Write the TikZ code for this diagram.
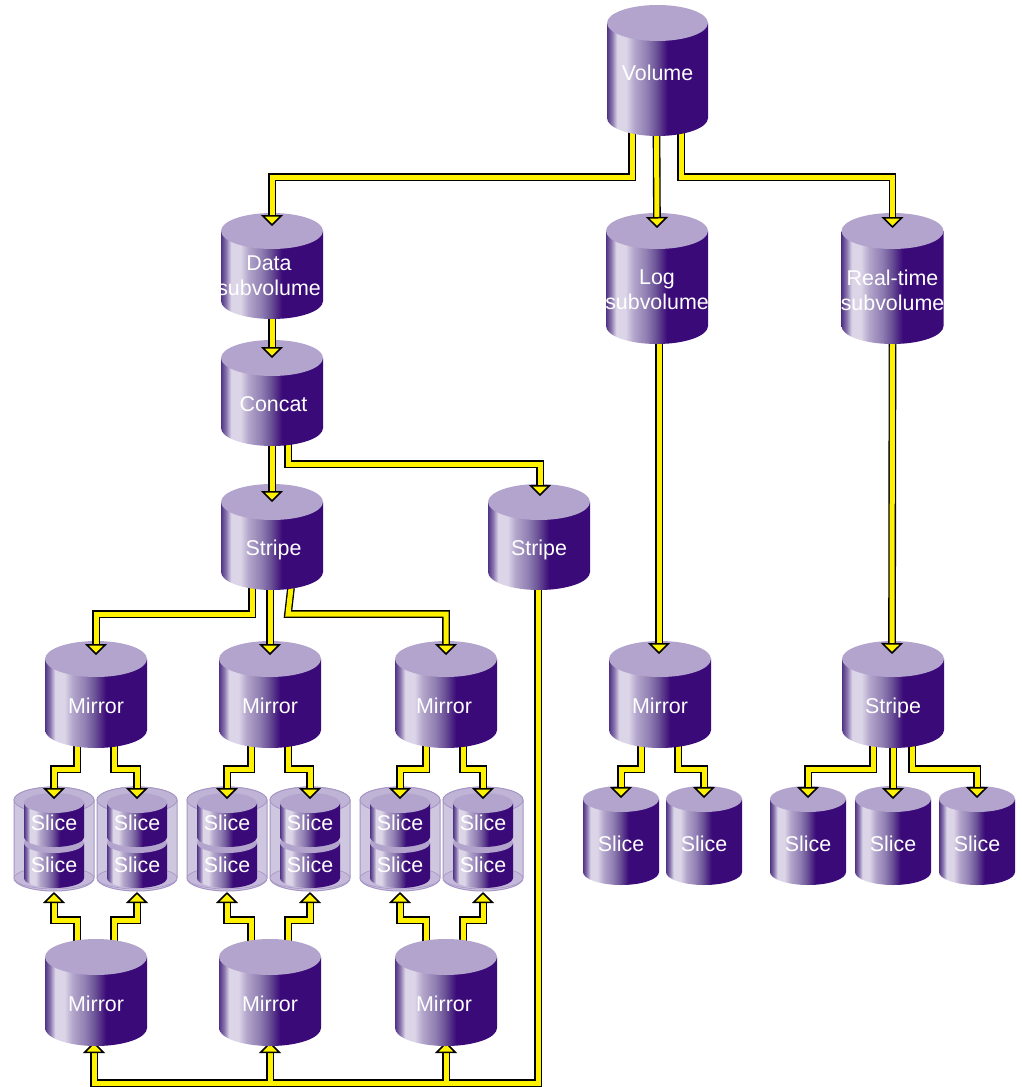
\documentclass[tikz,border=0pt]{standalone}
\usepackage{fontspec}
\setmainfont{Liberation Sans}
\usetikzlibrary{calc,arrows.meta}
\definecolor{cyltop}{HTML}{B2A4CC}
\definecolor{glassside}{HTML}{CFC6E0}
\definecolor{glasstop}{HTML}{BFB3D6}
\definecolor{glassbot}{HTML}{C4B9DA}
\definecolor{glassline}{HTML}{A595C4}
\definecolor{cylA}{HTML}{4F3385}
\definecolor{cylB}{HTML}{8A76AE}
\definecolor{cylC}{HTML}{DCD5E8}
\definecolor{cylD}{HTML}{B3A6CB}
\definecolor{cylE}{HTML}{8E7CB1}
\definecolor{cylF}{HTML}{6A5196}
\definecolor{cylG}{HTML}{3A0A78}
\pgfdeclarehorizontalshading{cylside}{100bp}{
  color(0bp)=(cylA); color(25bp)=(cylA); color(27.5bp)=(cylB); color(30bp)=(cylC);
  color(34.5bp)=(cylC); color(38.5bp)=(cylD); color(45bp)=(cylE); color(49.5bp)=(cylF);
  color(55bp)=(cylG); color(100bp)=(cylG)}
\pgfdeclarelayer{fg}
\pgfsetlayers{main,fg}
\tikzset{
  lbl/.style={text=white,inner sep=0pt,align=center,font=\fontsize{21.4}{25}\selectfont},
  bigcyl/.style={lbl,minimum width=102pt,minimum height=106pt},
  tallcyl/.style={lbl,minimum width=102pt,minimum height=131pt},
  slicecyl/.style={lbl,minimum width=76pt,minimum height=98pt},
  smallcyl/.style={lbl,minimum width=60pt,minimum height=54pt},
  nodepth/.style={text depth=0pt},
  conn/.style={draw=black,line width=1.35pt,double=yellow,double distance=5pt,line join=miter,
    -{Triangle[length=11pt,width=22pt,fill=yellow,line width=1.5pt]}},
  bus/.style={draw=black,line width=1.35pt,double=yellow,double distance=5pt,line join=miter},
}
% name, rx, ry, distance up to top ellipse centre, distance down to bottom ellipse centre
\newcommand\cylbody[5]{%
  \path[shade,shading=cylside] ($(#1)+(-#2,#4)$) -- ($(#1)+(-#2,-#5)$)
    arc[start angle=180,end angle=360,x radius=#2,y radius=#3]
    -- ($(#1)+(#2,#4)$) -- cycle;
  \fill[cyltop] ($(#1)+(0,#4)$) ellipse[x radius=#2,y radius=#3];
}
% glass cylinder around a pair of slices, placed from the upper slice node
\newcommand\glass[1]{%
  \path[fill=glassside,draw=glassline,line width=1pt] ($(#1)+(-40,23)$) -- ($(#1)+(-40,-55)$)
    arc[start angle=180,end angle=360,x radius=40,y radius=13]
    -- ($(#1)+(40,23)$) arc[start angle=0,end angle=180,x radius=40,y radius=13] -- cycle;
  \path[fill=glassbot,draw=glassline,line width=.6pt] ($(#1)+(0,-55)$) ellipse[x radius=40,y radius=11];
  \path[fill=glasstop,draw=glassline,line width=.8pt] ($(#1)+(0,23)$) ellipse[x radius=40,y radius=13];
}
\begin{document}
\begin{tikzpicture}[x=1pt,y=1pt]
\useasboundingbox (0,0) rectangle (1021,-1087);
\begin{pgfonlayer}{fg}
  \node[tallcyl] (vol) at (657.5,-73) {Volume};
  \node[bigcyl]  (data) at (272,-276) {\hspace*{-6pt}Data\\\hspace*{-6pt}subvolume};
  \node[tallcyl] (log) at (657,-290) {Log\\subvolume};
  \node[tallcyl] (rt) at (892.5,-290) {Real-time\\subvolume};
  \node[bigcyl]  (concat) at (272,-404) {\hspace*{3pt}Concat};
  \node[bigcyl,nodepth]  (st) at (272,-548) {\hspace*{3pt}Stripe};
  \node[bigcyl,nodepth]  (stb) at (539,-548) {Stripe};
  \node[bigcyl]  (ma) at (96,-706) {Mirror};
  \node[bigcyl]  (mb) at (270,-706) {Mirror};
  \node[bigcyl]  (mc) at (446,-706) {\hspace*{-4pt}Mirror};
  \node[bigcyl]  (md) at (660,-706) {Mirror};
  \node[bigcyl,nodepth]  (se) at (893,-706) {Stripe};
  \node[bigcyl]  (na) at (96,-1004) {Mirror};
  \node[bigcyl]  (nb) at (270,-1004) {Mirror};
  \node[bigcyl]  (nc) at (446,-1004) {\hspace*{-4pt}Mirror};
  \node[slicecyl] (sa) at (621,-844) {Slice};
  \node[slicecyl] (sb) at (704,-844) {Slice};
  \node[slicecyl] (sc) at (808,-844) {Slice};
  \node[slicecyl] (sd) at (893,-844) {Slice};
  \node[slicecyl] (se1) at (977,-844) {Slice};
  \foreach \n/\x in {a/54,b/137,c/227,d/310,e/400,f/483}{
    \node[smallcyl] (u\n) at (\x,-823) {Slice};
    \node[smallcyl] (l\n) at (\x,-865) {Slice};
  }
\end{pgfonlayer}
% leaf slices
\foreach \n in {sa,sb,sc,sd,se1}{\cylbody{\n}{38}{13}{45}{28}}
\foreach \n in {a,b,c,d,e,f}{
  \glass{u\n}
  \cylbody{l\n}{30}{10}{22}{13}
  \cylbody{u\n}{30}{10}{20}{14}
}
% mirror to slices
\draw[conn] ($(ma)+(-19,-39)$) -- ++(0,-24) -| ($(ua)+(0,24)$);
\draw[conn] ($(ma)+(18,-39)$) -- ++(0,-24) -| ($(ub)+(0,24)$);
\draw[conn] ($(mb)+(-19,-39)$) -- ++(0,-24) -| ($(uc)+(0,24)$);
\draw[conn] ($(mb)+(18,-39)$) -- ++(0,-24) -| ($(ud)+(0,24)$);
\draw[conn] ($(mc)+(-20,-39)$) -- ++(0,-24) -| ($(ue)+(0,24)$);
\draw[conn] ($(mc)+(17,-39)$) -- ++(0,-24) -| ($(uf)+(0,24)$);
\draw[conn] ($(na)+(-19,54)$) -- ++(0,30) -| ($(la)+(0,-27)$);
\draw[conn] ($(na)+(18,54)$) -- ++(0,30) -| ($(lb)+(0,-27)$);
\draw[conn] ($(nb)+(-19,54)$) -- ++(0,30) -| ($(lc)+(0,-27)$);
\draw[conn] ($(nb)+(18,54)$) -- ++(0,30) -| ($(ld)+(0,-27)$);
\draw[conn] ($(nc)+(-20,54)$) -- ++(0,30) -| ($(le)+(0,-27)$);
\draw[conn] ($(nc)+(17,54)$) -- ++(0,30) -| ($(lf)+(0,-27)$);
\draw[conn] ($(md)+(-19,-39)$) -- ++(0,-24) -| ($(sa)+(0,46)$);
\draw[conn] ($(md)+(18,-39)$) -- ++(0,-24) -| ($(sb)+(0,46)$);
\draw[conn] ($(se)+(-20,-39)$) -- ++(0,-24) -| ($(sc)+(0,46)$);
\draw[conn] ($(se)+(0,-39)$) -- ($(sd)+(0,45)$);
\draw[conn] ($(se)+(19,-39)$) -- ++(0,-24) -| ($(se1)+(0,46)$);
% bus from the right-hand stripe to the lower mirrors
\path[bus] ($(stb)+(-1,-36)$) |- ($(na)+(-2,-79)$) -- ($(na)+(-2,-47)$)
  ($(nb)+(0,-79)$) -- ($(nb)+(0,-47)$)
  ($(nc)+(0,-79)$) -- ($(nc)+(0,-47)$);
\draw[conn] ($(na)+(-2,-47.5)$) -- ($(na)+(-2,-38)$);
\draw[conn] ($(nb)+(0,-47.5)$) -- ($(nb)+(0,-38)$);
\draw[conn] ($(nc)+(0,-47.5)$) -- ($(nc)+(0,-38)$);
\foreach \n in {ma,mb,mc,md,se,na,nb,nc}{\cylbody{\n}{51}{18}{47}{24}}
% stripe to mirrors
\draw[conn] ($(st)+(-20,-36)$) -- ++(0,-30) -| ($(ma)+(0,51)$);
\draw[conn] ($(st)+(-2,-36)$) -- ($(mb)+(0,51)$);
\draw[conn] ($(st)+(19,-40)$) -- ($(st)+(16,-66)$) -| ($(mc)+(0,51)$);
\cylbody{st}{51}{18}{46}{24}
\cylbody{stb}{51}{18}{46}{24}
% concat to stripes
\draw[conn] ($(concat)+(0,-36)$) -- ($(st)+(0,46)$);
\draw[conn] ($(concat)+(16,-36)$) -- ++(0,-24) -| ($(stb)+(1,52)$);
\cylbody{concat}{51}{18}{46}{24}
\draw[conn] ($(data)+(0,-40)$) -- ($(concat)+(0,46)$);
\cylbody{data}{51}{18}{45}{25}
% long drops
\draw[conn] ($(log)+(2,-50)$) -- ($(md)+(-1,52)$);
\draw[conn] ($(rt)+(0,-50)$) -- ($(se)+(-1,52)$);
\cylbody{log}{51}{18}{59}{36}
\cylbody{rt}{51}{18}{59}{36}
% volume
\draw[conn] ($(vol)+(-25.5,-57)$) -- ++(0,-47) -| ($(data)+(0,50)$);
\draw[conn] ($(vol)+(-1,-57)$) -- ($(log)+(0,62)$);
\draw[conn] ($(vol)+(23.5,-57)$) -- ++(0,-47) -| ($(rt)+(0,62)$);
\cylbody{vol}{50.5}{18}{50}{45}
\end{tikzpicture}
\end{document}
